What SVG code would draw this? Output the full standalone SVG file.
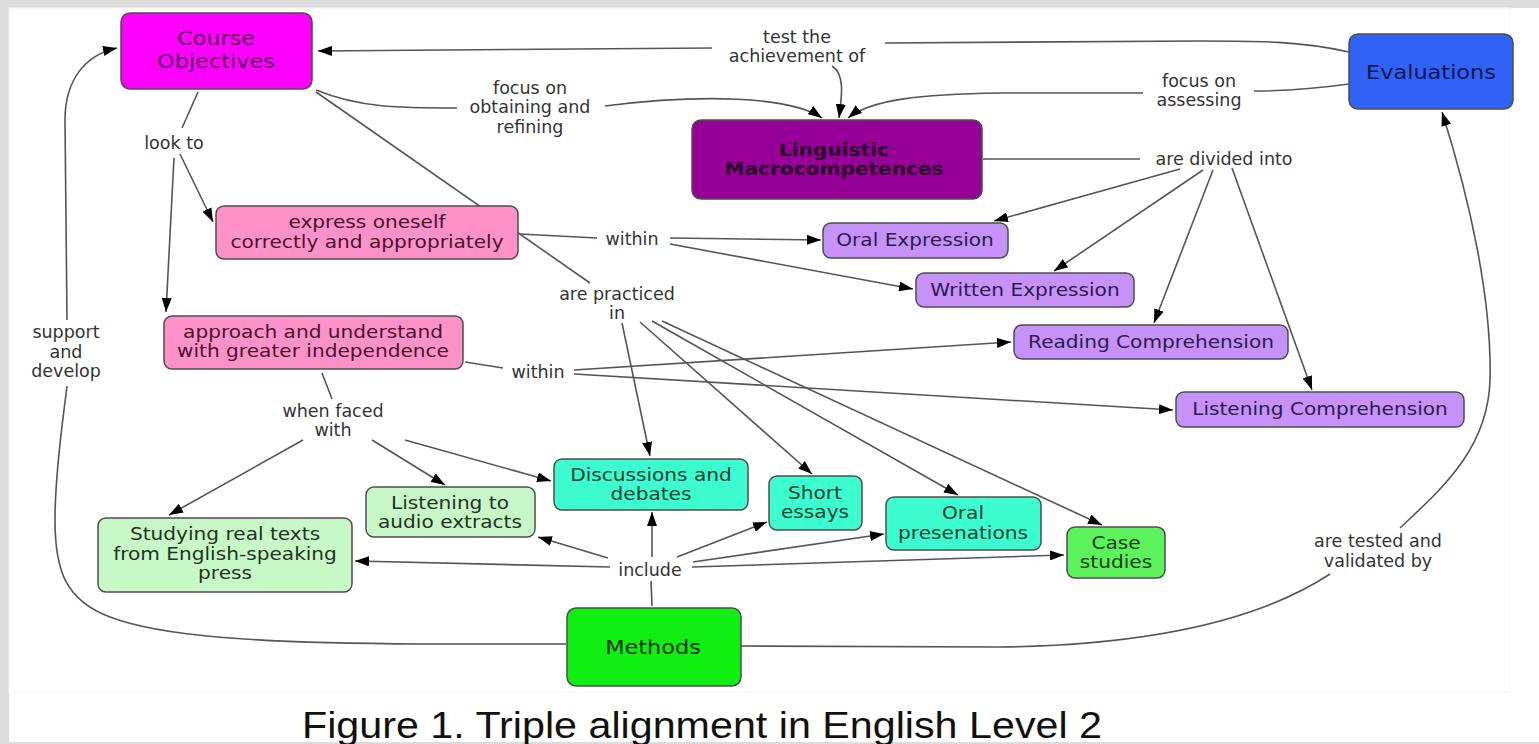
<svg xmlns="http://www.w3.org/2000/svg" width="1539" height="744" viewBox="0 0 1539 744">
  <style>
    .node rect { stroke: #4d4d4d; stroke-width: 1.5; }
    .nt { font-family: "DejaVu Sans", Verdana, sans-serif; font-size: 17.5px; text-anchor: middle; }
    .big { font-size: 19.5px; }
    .bold { font-weight: bold; }
    .lt { font-family: "DejaVu Sans", Verdana, sans-serif; font-size: 17.5px; text-anchor: middle; fill: #333333; }
    .edge { fill: none; stroke: #555555; stroke-width: 1.6; }
    .arr { marker-end: url(#ah); }
    .cap { font-family: "Liberation Sans", Arial, sans-serif; font-size: 36px; fill: #111111; }
  </style>
  <defs>
    <marker id="ah" viewBox="0 0 14 10" refX="14" refY="5" markerWidth="14" markerHeight="10" orient="auto" markerUnits="userSpaceOnUse">
      <path d="M0,0 L14,5 L0,10 z" fill="#000000"/>
    </marker>
  </defs>

  <!-- page and drawing panel -->
  <rect x="0" y="0" width="1539" height="744" fill="#dcdcdc"/>
  <rect x="9" y="8" width="1530" height="734" fill="#ffffff"/>
  <rect x="9" y="8" width="1501" height="684" fill="none" stroke="#f4f4f4" stroke-width="1"/>

  <!-- connectors and linking phrases -->
  <g id="connectors">
    <!-- Evaluations: test the achievement of -->
    <path class="edge" d="M1349,52 C1300,41 1260,41 1200,41 L885,43"/>
    <path class="edge arr" d="M712,48 L318,51"/>
    <path class="edge arr" d="M832,66 C845,74 842,95 839,118"/>
    <text class="lt"><tspan x="797" y="43">test the</tspan><tspan x="797" y="62">achievement of</tspan></text>

    <!-- Course Objectives: focus on obtaining and refining -->
    <path class="edge" d="M316,90 C360,108 400,108 457,108"/>
    <path class="edge arr" d="M605,106 C700,94 790,96 822,118"/>
    <text class="lt"><tspan x="530" y="94">focus on</tspan><tspan x="530" y="113">obtaining and</tspan><tspan x="530" y="133">refining</tspan></text>

    <!-- Evaluations: focus on assessing -->
    <path class="edge" d="M1349,84 C1320,88 1290,91 1254,91"/>
    <path class="edge arr" d="M1143,93 L1000,93 C920,94 870,100 848,118"/>
    <text class="lt"><tspan x="1199" y="87">focus on</tspan><tspan x="1199" y="106">assessing</tspan></text>

    <!-- Course Objectives: look to -->
    <path class="edge" d="M198,92 L182,128"/>
    <path class="edge arr" d="M180,154 L213,222"/>
    <path class="edge arr" d="M174,158 L166,312"/>
    <text class="lt" x="174" y="149">look to</text>

    <!-- Course Objectives: are practiced in -->
    <path class="edge" d="M316,92 L590,283"/>
    <path class="edge arr" d="M622,323 L650,456"/>
    <path class="edge arr" d="M640,322 L812,474"/>
    <path class="edge arr" d="M652,321 L958,495"/>
    <path class="edge arr" d="M662,321 L1102,525"/>
    <text class="lt"><tspan x="617" y="300">are practiced</tspan><tspan x="617" y="319">in</tspan></text>

    <!-- express oneself: within -->
    <path class="edge" d="M520,234 L597,238"/>
    <path class="edge arr" d="M670,238 L821,240"/>
    <path class="edge arr" d="M670,244 L913,289"/>
    <text class="lt" x="632" y="245">within</text>

    <!-- approach and understand: within -->
    <path class="edge" d="M465,362 L503,368"/>
    <path class="edge arr" d="M574,370 L1011,342"/>
    <path class="edge arr" d="M574,374 L1173,410"/>
    <text class="lt" x="538" y="378">within</text>

    <!-- approach and understand: when faced with -->
    <path class="edge" d="M322,373 L332,399"/>
    <path class="edge arr" d="M303,440 L169,515"/>
    <path class="edge arr" d="M372,440 L445,485"/>
    <path class="edge arr" d="M405,440 L551,481"/>
    <text class="lt"><tspan x="333" y="417">when faced</tspan><tspan x="333" y="436">with</tspan></text>

    <!-- Linguistic Macrocompetences: are divided into -->
    <path class="edge" d="M983,159 L1140,159"/>
    <path class="edge arr" d="M1180,169 L994,221"/>
    <path class="edge arr" d="M1203,170 L1054,271"/>
    <path class="edge arr" d="M1213,170 L1154,323"/>
    <path class="edge arr" d="M1232,168 L1312,390"/>
    <text class="lt" x="1224" y="165">are divided into</text>

    <!-- Methods: include -->
    <path class="edge" d="M652,606 L651,581"/>
    <path class="edge arr" d="M610,567 L355,561"/>
    <path class="edge arr" d="M608,558 L538,537"/>
    <path class="edge arr" d="M652,557 L652,512"/>
    <path class="edge arr" d="M677,557 L767,522"/>
    <path class="edge arr" d="M693,562 L884,534"/>
    <path class="edge arr" d="M692,567 L1064,555"/>
    <text class="lt" x="650" y="576">include</text>

    <!-- Methods: support and develop -->
    <path class="edge" d="M566,644 L420,644 C250,643 160,636 110,617 C65,600 55,570 55,520 C55,470 63,420 67,386"/>
    <path class="edge arr" d="M67,320 L65,120 C65,80 85,55 117,48"/>
    <text class="lt"><tspan x="66" y="338">support</tspan><tspan x="66" y="358">and</tspan><tspan x="66" y="377">develop</tspan></text>

    <!-- Methods: are tested and validated by -->
    <path class="edge" d="M741,646 L1000,647 C1150,645 1260,620 1330,574"/>
    <path class="edge arr" d="M1400,528 C1440,490 1488,450 1490,380 C1492,300 1470,200 1442,112"/>
    <text class="lt"><tspan x="1378" y="547">are tested and</tspan><tspan x="1378" y="567">validated by</tspan></text>
  </g>

  <!-- concepts -->
  <g id="course-objectives" class="node">
    <rect x="121" y="13" width="191" height="76" rx="9" fill="#ff00ff"/>
    <text class="nt big" fill="#5a0a5a" transform="translate(216 45) scale(1.15 1)"><tspan x="0">Course</tspan><tspan x="0" dy="23">Objectives</tspan></text>
  </g>
  <g id="evaluations" class="node">
    <rect x="1349" y="34" width="164" height="75" rx="9" fill="#2f62f5"/>
    <text class="nt big" fill="#0b1650" transform="translate(1431 79) scale(1.15 1)">Evaluations</text>
  </g>
  <g id="linguistic-macrocompetences" class="node">
    <rect x="692" y="120" width="290" height="79" rx="9" fill="#960096"/>
    <text class="nt bold" fill="#2a002a" transform="translate(834 156) scale(1.15 1)"><tspan x="0">Linguistic</tspan><tspan x="0" dy="19">Macrocompetences</tspan></text>
  </g>
  <g id="express-oneself" class="node">
    <rect x="216" y="206" width="302" height="53" rx="8" fill="#fc92c8"/>
    <text class="nt" fill="#4a1030" transform="translate(367 228) scale(1.15 1)"><tspan x="0">express oneself</tspan><tspan x="0" dy="20">correctly and appropriately</tspan></text>
  </g>
  <g id="approach-understand" class="node">
    <rect x="164" y="316" width="299" height="53" rx="8" fill="#fc92c8"/>
    <text class="nt" fill="#4a1030" transform="translate(313 338) scale(1.15 1)"><tspan x="0">approach and understand</tspan><tspan x="0" dy="19">with greater independence</tspan></text>
  </g>
  <g id="oral-expression" class="node">
    <rect x="823" y="223" width="185" height="35" rx="8" fill="#c692fa"/>
    <text class="nt" fill="#2e1a48" transform="translate(915 246) scale(1.15 1)">Oral Expression</text>
  </g>
  <g id="written-expression" class="node">
    <rect x="916" y="273" width="218" height="34" rx="8" fill="#c692fa"/>
    <text class="nt" fill="#2e1a48" transform="translate(1025 296) scale(1.15 1)">Written Expression</text>
  </g>
  <g id="reading-comprehension" class="node">
    <rect x="1014" y="325" width="274" height="34" rx="8" fill="#c692fa"/>
    <text class="nt" fill="#2e1a48" transform="translate(1151 348) scale(1.15 1)">Reading Comprehension</text>
  </g>
  <g id="listening-comprehension" class="node">
    <rect x="1176" y="392" width="288" height="35" rx="8" fill="#c692fa"/>
    <text class="nt" fill="#2e1a48" transform="translate(1320 415) scale(1.15 1)">Listening Comprehension</text>
  </g>
  <g id="discussions-debates" class="node">
    <rect x="554" y="459" width="194" height="51" rx="8" fill="#3dfcd0"/>
    <text class="nt" fill="#0b3f33" transform="translate(651 481) scale(1.15 1)"><tspan x="0">Discussions and</tspan><tspan x="0" dy="19">debates</tspan></text>
  </g>
  <g id="short-essays" class="node">
    <rect x="769" y="476" width="93" height="54" rx="8" fill="#3dfcd0"/>
    <text class="nt" fill="#0b3f33" transform="translate(815 499) scale(1.15 1)"><tspan x="0">Short</tspan><tspan x="0" dy="19">essays</tspan></text>
  </g>
  <g id="oral-presentations" class="node">
    <rect x="886" y="497" width="155" height="53" rx="8" fill="#3dfcd0"/>
    <text class="nt" fill="#0b3f33" transform="translate(963 519) scale(1.15 1)"><tspan x="0">Oral</tspan><tspan x="0" dy="20">presenations</tspan></text>
  </g>
  <g id="case-studies" class="node">
    <rect x="1067" y="527" width="98" height="51" rx="8" fill="#5cf25c"/>
    <text class="nt" fill="#0b3f0b" transform="translate(1116 549) scale(1.15 1)"><tspan x="0">Case</tspan><tspan x="0" dy="19">studies</tspan></text>
  </g>
  <g id="listening-audio" class="node">
    <rect x="366" y="487" width="169" height="50" rx="8" fill="#c8f8c8"/>
    <text class="nt" fill="#1f3320" transform="translate(450 509) scale(1.15 1)"><tspan x="0">Listening to</tspan><tspan x="0" dy="19">audio extracts</tspan></text>
  </g>
  <g id="studying-real-texts" class="node">
    <rect x="98" y="518" width="254" height="74" rx="8" fill="#c8f8c8"/>
    <text class="nt" fill="#1f3320" transform="translate(225 540) scale(1.15 1)"><tspan x="0">Studying real texts</tspan><tspan x="0" dy="20">from English-speaking</tspan><tspan x="0" dy="19">press</tspan></text>
  </g>
  <g id="methods" class="node">
    <rect x="567" y="608" width="174" height="78" rx="9" fill="#11ee11"/>
    <text class="nt big" fill="#063306" transform="translate(653 654) scale(1.15 1)">Methods</text>
  </g>

  <!-- caption -->
  <text class="cap" x="302" y="738" textLength="800" lengthAdjust="spacingAndGlyphs">Figure 1. Triple alignment in English Level 2</text>
</svg>
